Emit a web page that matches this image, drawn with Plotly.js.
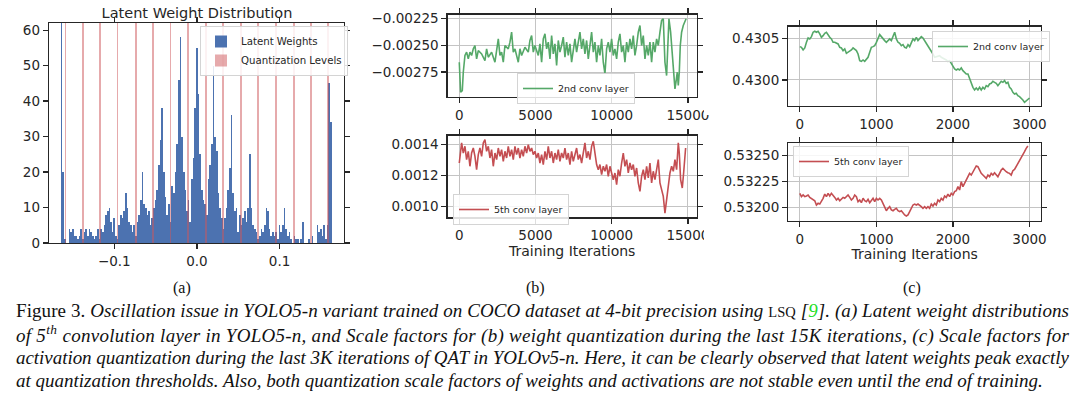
<!DOCTYPE html>
<html>
<head>
<meta charset="utf-8">
<script src="https://cdn.plot.ly/plotly-3.0.1.min.js"></script>
<style>html,body{margin:0;padding:0;background:#fff;}#chart{width:1080px;height:399px;}</style>
</head>
<body>
<div id="chart"></div>
<script>
// ---------- (a) Latent weight histogram ----------
const histBinStart = -0.164;   // centre of first bin
const histBinWidth = 0.002;
const histCounts = [70,20,1,0,0,4,3,4,2,2, 1,2,4,1,3,4,2,4,3,2, 1,2,4,1,4,3,5,8,9,10, 6,3,7,2,1,5,8,7,9,14,
  10,6,5,3,5,2,6,8,12,20, 11,10,8,9,5,7,10,12,15,22, 29,38,20,13,8,11,6,16,14,20, 28,46,58,30,20,15,9,12,6,18,
  24,38,55,42,25,15,12,11,8,18, 22,28,50,30,26,14,10,7,4,7, 10,15,21,36,14,9,10,3,8,5, 7,9,6,10,25,10,5,4,3,1,
  2,4,3,5,10,9,4,2,3,2, 3,1,5,3,5,10,4,2,3,1, 0,2,1,1,0,1,6,0,0,0, 1,0,2,0,0,5,3,4,2,5, 1,5,45,34];
const quantLevels = [-0.159,-0.138,-0.117,-0.096,-0.074,-0.053,-0.032,-0.011,0.011,0.032,0.053,0.074,0.096,0.117,0.138,0.159];
const histYMax = 62;

// ---------- (b) weight scale factors, last 15K iterations ----------
const bIterW2 = [0,87,197,262,372,481,590,700,809,919,1028,1137,1247,1465,1684,1793,1903,2121,2340,2449,
  2559,2668,2777,2887,2996,3215,3324,3434,3543,3652,3871,3980,4090,4308,4527,4636,4746,4855,4964,5183,
  5293,5402,5511,5621,5730,5839,5949,6058,6167,6277,6386,6495,6605,6714,6823,6933,7042,7151,7261,7370,
  7480,7589,7698,7808,7917,8026,8136,8245,8354,8464,8573,8682,8792,8901,9010,9120,9229,9338,9448,9557,
  9667,9776,9885,9995,10104,10213,10323,10432,10541,10651,10760,10869,10979,11088,11197,11307,11416,11525,11635,11744,
  11854,11963,12072,12182,12291,12400,12510,12619,12728,12838,12947,13056,13166,13275,13384,13494,13603,13669,13756,13866,
  13975,14084,14150,14216,14303,14369,14434,14500,14587,14696,14806,14880];
const bScale2nd = [-0.002659,-0.002939,-0.002923,-0.002752,-0.002596,-0.002565,-0.002628,-0.002565,-0.002596,-0.002534,
  -0.002503,-0.002628,-0.002550,-0.002581,-0.002643,-0.002534,-0.002612,-0.002565,-0.002659,-0.002550,
  -0.002441,-0.002596,-0.002565,-0.002659,-0.002503,-0.002534,-0.002472,-0.002379,-0.002565,-0.002534,
  -0.002659,-0.002534,-0.002596,-0.002519,-0.002565,-0.002456,-0.002410,-0.002565,-0.002503,-0.002596,
  -0.002488,-0.002659,-0.002441,-0.002394,-0.002534,-0.002472,-0.002628,-0.002410,-0.002581,-0.002488,
  -0.002690,-0.002456,-0.002565,-0.002503,-0.002425,-0.002612,-0.002472,-0.002596,-0.002488,-0.002659,
  -0.002565,-0.002441,-0.002565,-0.002472,-0.002379,-0.002534,-0.002441,-0.002581,-0.002456,-0.002628,
  -0.002503,-0.002379,-0.002565,-0.002472,-0.002659,-0.002503,-0.002596,-0.002441,-0.002659,-0.002767,
  -0.002534,-0.002472,-0.002565,-0.002441,-0.002596,-0.002534,-0.002628,-0.002472,-0.002394,-0.002565,
  -0.002503,-0.002659,-0.002472,-0.002565,-0.002441,-0.002534,-0.002410,-0.002596,-0.002503,-0.002379,
  -0.002317,-0.002503,-0.002410,-0.002628,-0.002503,-0.002596,-0.002472,-0.002659,-0.002472,-0.002565,
  -0.002441,-0.002503,-0.002379,-0.002270,-0.002254,-0.002659,-0.002783,-0.002565,-0.002254,-0.002379,
  -0.002596,-0.002814,-0.002907,-0.002845,-0.002752,-0.002876,-0.002752,-0.002503,-0.002379,-0.002317,
  -0.002270,-0.002254];
const bIterW5 = [0,87,153,262,372,481,590,700,809,919,1028,1137,1247,1356,1465,1575,1684,1793,1903,2012,
  2121,2231,2340,2449,2559,2668,2777,2887,2996,3105,3215,3324,3434,3543,3652,3762,3871,3980,4090,4199,
  4308,4418,4527,4636,4746,4855,4964,5074,5183,5293,5402,5511,5621,5730,5839,5949,6058,6167,6277,6386,
  6495,6605,6714,6823,6933,7042,7151,7261,7370,7480,7589,7698,7808,7917,8026,8136,8245,8354,8464,8573,
  8682,8792,8901,9010,9120,9229,9338,9448,9557,9667,9776,9885,9995,10104,10213,10323,10432,10541,10651,10760,
  10869,10979,11088,11197,11307,11416,11525,11635,11744,11854,11963,12072,12182,12291,12400,12510,12619,12728,12838,12947,
  13056,13166,13275,13384,13494,13603,13712,13822,13931,14041,14150,14259,14369,14434,14522,14631,14719,14806,14850];
const bScale5th = [0.001280,0.001366,0.001409,0.001344,0.001387,0.001302,0.001355,0.001259,0.001344,0.001376,
  0.001323,0.001237,0.001334,0.001376,0.001323,0.001409,0.001430,0.001355,0.001387,0.001312,
  0.001366,0.001259,0.001344,0.001302,0.001376,0.001323,0.001366,0.001291,0.001355,0.001312,
  0.001387,0.001323,0.001366,0.001302,0.001387,0.001334,0.001376,0.001312,0.001366,0.001323,
  0.001387,0.001344,0.001398,0.001355,0.001376,0.001334,0.001355,0.001312,0.001344,0.001280,
  0.001334,0.001270,0.001355,0.001302,0.001387,0.001312,0.001355,0.001280,0.001344,0.001302,
  0.001366,0.001291,0.001344,0.001312,0.001376,0.001302,0.001344,0.001270,0.001355,0.001291,
  0.001344,0.001376,0.001302,0.001334,0.001280,0.001355,0.001409,0.001312,0.001355,0.001302,
  0.001387,0.001419,0.001344,0.001270,0.001237,0.001270,0.001205,0.001259,0.001227,0.001270,
  0.001195,0.001259,0.001216,0.001173,0.001216,0.001141,0.001237,0.001195,0.001280,0.001344,
  0.001259,0.001302,0.001216,0.001280,0.001237,0.001270,0.001195,0.001248,0.001152,0.001098,
  0.001195,0.001237,0.001173,0.001259,0.001184,0.001280,0.001152,0.001227,0.001173,0.001248,
  0.001302,0.001152,0.001109,0.001066,0.000959,0.001045,0.001130,0.001216,0.001259,0.001227,
  0.001302,0.001237,0.001409,0.001344,0.001173,0.001120,0.001216,0.001366,0.001376];

// ---------- (c) activation scale factors, last 3K iterations ----------
const cIterStart = 0;
const cIterStep = 21.74;
const cScale2nd = [0.430400,0.430392,0.430360,0.430384,0.430452,0.430504,0.430492,0.430520,0.430572,0.430584,
  0.430572,0.430584,0.430552,0.430512,0.430532,0.430560,0.430572,0.430532,0.430512,0.430492,
  0.430452,0.430452,0.430440,0.430432,0.430392,0.430384,0.430352,0.430372,0.430320,0.430332,
  0.430352,0.430360,0.430384,0.430372,0.430352,0.430312,0.430232,0.430224,0.430240,0.430224,
  0.430252,0.430272,0.430332,0.430392,0.430400,0.430412,0.430452,0.430492,0.430544,0.430520,
  0.430492,0.430472,0.430452,0.430472,0.430492,0.430472,0.430532,0.430572,0.430492,0.430452,
  0.430440,0.430412,0.430424,0.430392,0.430384,0.430424,0.430400,0.430452,0.430492,0.430472,
  0.430512,0.430472,0.430492,0.430520,0.430504,0.430472,0.430452,0.430412,0.430384,0.430352,
  0.430312,0.430272,0.430280,0.430292,0.430292,0.430272,0.430264,0.430252,0.430240,0.430224,
  0.430232,0.430200,0.430172,0.430132,0.430120,0.430132,0.430120,0.430144,0.430112,0.430092,
  0.430072,0.430072,0.430012,0.429960,0.429912,0.429880,0.429904,0.429880,0.429912,0.429880,
  0.429912,0.429892,0.429932,0.429920,0.429952,0.429960,0.429984,0.429972,0.429960,0.429932,
  0.429960,0.429984,0.429972,0.429992,0.429960,0.429972,0.429912,0.429892,0.429852,0.429832,
  0.429840,0.429812,0.429800,0.429784,0.429760,0.429732,0.429752,0.429772,0.429784];
const cScale5th = [0.532138,0.532106,0.532122,0.532106,0.532112,0.532122,0.532099,0.532090,0.532074,0.532067,
  0.532026,0.532042,0.532035,0.532058,0.532090,0.532131,0.532106,0.532138,0.532112,0.532138,
  0.532122,0.532099,0.532074,0.532090,0.532067,0.532080,0.532099,0.532090,0.532112,0.532122,
  0.532099,0.532074,0.532090,0.532122,0.532106,0.532058,0.532074,0.532048,0.532090,0.532067,
  0.532058,0.532080,0.532048,0.532074,0.532090,0.532058,0.532090,0.532074,0.532090,0.532074,
  0.532042,0.532010,0.531971,0.531994,0.532010,0.531978,0.531971,0.531984,0.531994,0.531971,
  0.531962,0.531971,0.531946,0.531930,0.531920,0.531930,0.531962,0.531994,0.532026,0.532035,
  0.532026,0.532035,0.532026,0.532010,0.531994,0.532010,0.531994,0.532010,0.531994,0.532035,
  0.532016,0.532042,0.532026,0.532074,0.532058,0.532090,0.532074,0.532112,0.532099,0.532131,
  0.532106,0.532138,0.532122,0.532154,0.532163,0.532202,0.532170,0.532250,0.532202,0.532234,
  0.532266,0.532298,0.532330,0.532314,0.532346,0.532362,0.532401,0.532394,0.532362,0.532330,
  0.532314,0.532298,0.532282,0.532314,0.532298,0.532330,0.532314,0.532336,0.532314,0.532298,
  0.532330,0.532362,0.532378,0.532356,0.532346,0.532336,0.532330,0.532314,0.532356,0.532368,
  0.532394,0.532426,0.532452,0.532474,0.532506,0.532538,0.532570,0.532593];

// ---------- labels ----------
const histTitle = 'Latent Weight Distribution';
const histLegend = ['Latent Weights', 'Quantization Levels'];
const seriesNames = ['2nd conv layer', '5th conv layer'];
const xTitle = 'Training Iterations';
const panelLabels = ['(a)', '(b)', '(c)'];
const captionLines = [
  'Figure 3. <i>Oscillation issue in YOLO5-n variant trained on COCO dataset at 4-bit precision using</i> <span style="font-size:14.5px">LSQ</span> <i>[<span style="color:#22dd22">9</span>]. (a) Latent weight distributions</i>',
  '<i>of 5<sup>th</sup> convolution layer in YOLO5-n, and Scale factors for (b) weight quantization during the last 15K iterations, (c) Scale factors for</i>',
  '<i>activation quantization during the last 3K iterations of QAT in YOLOv5-n. Here, it can be clearly observed that latent weights peak exactly</i>',
  '<i>at quantization thresholds. Also, both quantization scale factors of weights and activations are not stable even until the end of training.</i>'
];
const captionJustified = [true, true, true, false];

// ---------- styling ----------
const W = 1080, H = 399;
const BLUE = '#4c72b0', GREEN = '#55a868', RED = '#c44e52';
const INK = '#262626';
const FONT = 'DejaVu Sans';
const CAPTION_LEFT = 15, CAPTION_WIDTH = 1053;
const px = x => x / W;
const py = y => 1 - y / H;

function axis(o) {
  return Object.assign({
    showline: true, mirror: 'ticks', linecolor: INK, linewidth: 1.3,
    ticks: 'outside', ticklen: 5, tickwidth: 1.2, tickcolor: INK,
    tickfont: {family: FONT, size: 13.5, color: INK},
    zeroline: false, showgrid: true, gridcolor: '#c4c4c4', gridwidth: 1,
    automargin: false, fixedrange: true
  }, o);
}

const traces = [
  {type: 'bar', x0: histBinStart, dx: histBinWidth, y: histCounts, width: histBinWidth,
   marker: {color: BLUE, line: {width: 0}}, name: histLegend[0], xaxis: 'x', yaxis: 'y', legend: 'legend'},
  {type: 'bar', x: quantLevels, y: quantLevels.map(() => histYMax), width: 0.0022,
   marker: {color: 'rgba(205,85,90,0.5)', line: {width: 0}}, name: histLegend[1], xaxis: 'x', yaxis: 'y', legend: 'legend'},
  {type: 'scatter', mode: 'lines', x: bIterW2, y: bScale2nd, line: {color: GREEN, width: 1.6},
   name: seriesNames[0], xaxis: 'x2', yaxis: 'y2', legend: 'legend2'},
  {type: 'scatter', mode: 'lines', x: bIterW5, y: bScale5th, line: {color: RED, width: 1.6},
   name: seriesNames[1], xaxis: 'x3', yaxis: 'y3', legend: 'legend3'},
  {type: 'scatter', mode: 'lines', x0: cIterStart, dx: cIterStep, y: cScale2nd, line: {color: GREEN, width: 1.6},
   name: seriesNames[0], xaxis: 'x4', yaxis: 'y4', legend: 'legend4'},
  {type: 'scatter', mode: 'lines', x0: cIterStart, dx: cIterStep, y: cScale5th, line: {color: RED, width: 1.6},
   name: seriesNames[1], xaxis: 'x5', yaxis: 'y5', legend: 'legend5'}
];

function legendBox(x, y, size) {
  return {x: px(x), y: py(y), xanchor: 'left', yanchor: 'top', xref: 'paper', yref: 'paper',
    bgcolor: 'rgba(255,255,255,0.85)', bordercolor: '#d4d4d4', borderwidth: 1,
    font: {family: FONT, size: size, color: INK}, itemwidth: 30, tracegroupgap: 0};
}

const layout = {
  width: W, height: H, margin: {l: 0, r: 0, t: 0, b: 0},
  paper_bgcolor: '#fff', plot_bgcolor: '#fff',
  barmode: 'overlay', bargap: 0, showlegend: true,
  title: {text: histTitle, font: {family: FONT, size: 14.5, color: INK},
          x: px(197), xref: 'paper', xanchor: 'center', y: py(13), yref: 'container', yanchor: 'middle'},
  xaxis: axis({domain: [px(49), px(344)], range: [-0.179, 0.178], anchor: 'y', showgrid: false,
               tickvals: [-0.1, 0, 0.1], tickformat: '.1f'}),
  yaxis: axis({domain: [py(243), py(23)], range: [0, histYMax], anchor: 'x', showgrid: false,
               tickvals: [0, 10, 20, 30, 40, 50, 60]}),
  xaxis2: axis({domain: [px(447.7), px(696.7)], range: [-760, 15577], anchor: 'y2',
                tickvals: [0, 5000, 10000, 15000], tickformat: 'd'}),
  yaxis2: axis({domain: [py(97), py(14.7)], range: [-0.002983, -0.002216], anchor: 'x2',
                tickvals: [-0.00275, -0.0025, -0.00225], tickformat: '.5f'}),
  xaxis3: axis({domain: [px(447.7), px(696.7)], range: [-760, 15577], anchor: 'y3',
                tickvals: [0, 5000, 10000, 15000], tickformat: 'd',
                title: {text: xTitle, font: {family: FONT, size: 14, color: INK}, standoff: 2}}),
  yaxis3: axis({domain: [py(217.3), py(135.7)], range: [0.000932, 0.001455], anchor: 'x3',
                tickvals: [0.0010, 0.0012, 0.0014], tickformat: '.4f'}),
  xaxis4: axis({domain: [px(788.3), px(1041)], range: [-150, 3150], anchor: 'y4',
                tickvals: [0, 1000, 2000, 3000], tickformat: 'd'}),
  yaxis4: axis({domain: [py(106), py(26.7)], range: [0.429688, 0.430639], anchor: 'x4',
                tickvals: [0.4300, 0.4305], tickformat: '.4f'}),
  xaxis5: axis({domain: [px(788.3), px(1041)], range: [-150, 3150], anchor: 'y5',
                tickvals: [0, 1000, 2000, 3000], tickformat: 'd',
                title: {text: xTitle, font: {family: FONT, size: 14, color: INK}, standoff: 1}}),
  yaxis5: axis({domain: [py(221), py(143.3)], range: [0.531872, 0.532619], anchor: 'x5',
                tickvals: [0.53200, 0.53225, 0.53250], tickformat: '.5f'}),
  legend: legendBox(200, 26, 10.2),
  legend2: legendBox(517, 73, 9.5),
  legend3: legendBox(453, 194, 9.5),
  legend4: legendBox(932, 31, 9.5),
  legend5: legendBox(793, 146, 9.5),
  shapes: [
    {type: 'rect', xref: 'paper', yref: 'paper', x0: px(704), x1: px(722), y0: py(115), y1: py(99),
     fillcolor: '#fff', line: {width: 0}, layer: 'above'},
    {type: 'rect', xref: 'paper', yref: 'paper', x0: px(704), x1: px(722), y0: py(241), y1: py(224),
     fillcolor: '#fff', line: {width: 0}, layer: 'above'}
  ],
  annotations: [
    {text: panelLabels[0], x: px(182), y: py(288), xref: 'paper', yref: 'paper', showarrow: false,
     font: {family: 'Liberation Serif', size: 16, color: '#111'}, xanchor: 'center', yanchor: 'middle'},
    {text: panelLabels[1], x: px(535), y: py(288), xref: 'paper', yref: 'paper', showarrow: false,
     font: {family: 'Liberation Serif', size: 16, color: '#111'}, xanchor: 'center', yanchor: 'middle'},
    {text: panelLabels[2], x: px(912), y: py(288), xref: 'paper', yref: 'paper', showarrow: false,
     font: {family: 'Liberation Serif', size: 16, color: '#111'}, xanchor: 'center', yanchor: 'middle'}
  ].concat(captionLines.map((t, i) => ({
    text: t, x: px(CAPTION_LEFT - 1), y: py(311 + i * 23), xref: 'paper', yref: 'paper', showarrow: false,
    font: {family: 'Liberation Serif', size: 19, color: '#111'}, xanchor: 'left', yanchor: 'middle', align: 'left'
  })))
};

Plotly.newPlot('chart', traces, layout, {staticPlot: true, displayModeBar: false}).then(gd => {
  // justify the caption lines like the typeset paper caption
  const texts = gd.querySelectorAll('.annotation-text');
  captionJustified.forEach((just, i) => {
    const el = texts[panelLabels.length + i];
    if (!el || !just) return;
    const b = el.getBBox();
    el.setAttribute('text-anchor', 'start');
    el.style.textAnchor = 'start';
    el.setAttribute('x', b.x);
    el.setAttribute('textLength', CAPTION_WIDTH);
    el.setAttribute('lengthAdjust', 'spacing');
  });
});
</script>
</body>
</html>
